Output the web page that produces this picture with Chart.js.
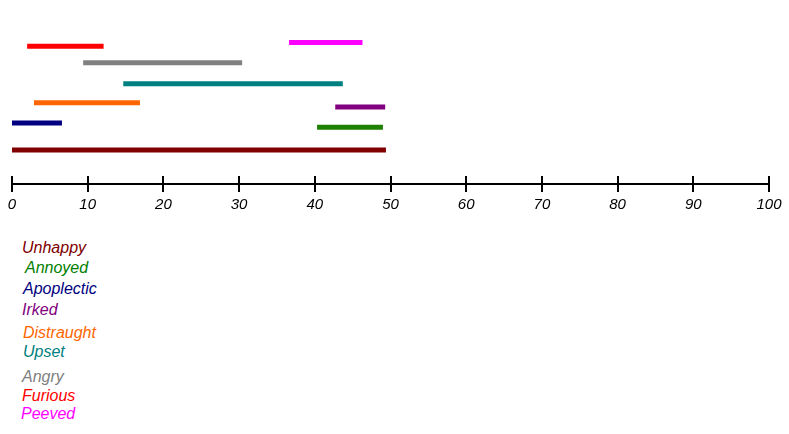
<!DOCTYPE html>
<html>
<head>
<meta charset="utf-8">
<script src="https://cdn.jsdelivr.net/npm/chart.js@4"></script>
<style>
  body { margin: 0; background: #fff; }
  #wrap { position: relative; width: 789px; height: 434px; }
  #chart { position: absolute; left: 0; top: 0; }
  .lbl { position: absolute; font: italic 16px "Liberation Sans", Arial, sans-serif; line-height: 18px; white-space: nowrap; }
</style>
</head>
<body>
<div id="wrap">
  <canvas id="chart" width="789" height="218"></canvas>
  <div id="legend"></div>
</div>
<script>
// rows of the chart, from bottom to top
const categories = ['Unhappy', 'Annoyed', 'Apoplectic', 'Irked', 'Distraught', 'Upset', 'Angry', 'Furious', 'Peeved'];
const starts = [0, 40.3, 0, 42.7, 2.9, 14.7, 9.4, 2.0, 36.6];
const ends = [49.4, 49.0, 6.6, 49.3, 16.9, 43.7, 30.4, 12.1, 46.3];
const levels = [2.2, 3.69, 3.96, 5.0, 5.27, 6.51, 7.88, 8.95, 9.19];
const colors = ['#800000', '#1f8000', '#000080', '#800080', '#ff6600', '#008080', '#808080', '#ff0000', '#ff00ff'];
const textColors = ['#800000', '#008000', '#000080', '#800080', '#ff6600', '#008080', '#808080', '#ff0000', '#ff00ff'];
const xTicks = [0, 10, 20, 30, 40, 50, 60, 70, 80, 90, 100];

// legend rows (left, top)
const legendPos = [[22, 239], [25, 259], [23, 280], [22, 301], [23, 324], [23, 343], [22, 368], [22, 387], [21, 405]];

const legend = document.getElementById('legend');
categories.forEach((name, i) => {
  const d = document.createElement('div');
  d.className = 'lbl';
  d.textContent = name;
  d.style.color = textColors[i];
  d.style.left = legendPos[i][0] + 'px';
  d.style.top = legendPos[i][1] + 'px';
  legend.appendChild(d);
});

// ticks cross the axis line: draw the upper half too
const crossTicks = {
  id: 'crossTicks',
  afterDraw(chart) {
    const x = chart.scales.x;
    const ctx = chart.ctx;
    ctx.save();
    ctx.strokeStyle = '#000';
    ctx.lineWidth = 2;
    xTicks.forEach(v => {
      const px = Math.round(x.getPixelForValue(v));
      ctx.beginPath();
      ctx.moveTo(px, x.top - 8);
      ctx.lineTo(px, x.top);
      ctx.stroke();
    });
    ctx.restore();
  }
};

new Chart(document.getElementById('chart'), {
  type: 'scatter',
  data: {
    datasets: categories.map((name, i) => ({
      label: name,
      data: [{ x: starts[i], y: levels[i] }, { x: ends[i], y: levels[i] }],
      showLine: true,
      borderColor: colors[i],
      borderWidth: 5,
      pointRadius: 0,
      pointHoverRadius: 0
    }))
  },
  options: {
    responsive: false,
    animation: false,
    layout: { padding: { left: 12, right: 20, top: 30, bottom: 0 } },
    plugins: { legend: { display: false }, tooltip: { enabled: false } },
    scales: {
      x: {
        type: 'linear',
        min: 0,
        max: 100,
        afterBuildTicks: s => { s.ticks = xTicks.map(v => ({ value: v })); },
        border: { display: true, color: '#000', width: 2 },
        grid: { drawOnChartArea: false, drawTicks: true, tickLength: 8, color: '#000', lineWidth: 2 },
        ticks: {
          color: '#000',
          padding: 4,
          maxRotation: 0,
          font: { family: '"Liberation Sans", Arial, sans-serif', size: 15, style: 'italic' }
        }
      },
      y: { display: false, min: 0, max: 10 }
    }
  },
  plugins: [crossTicks]
});
</script>
</body>
</html>
